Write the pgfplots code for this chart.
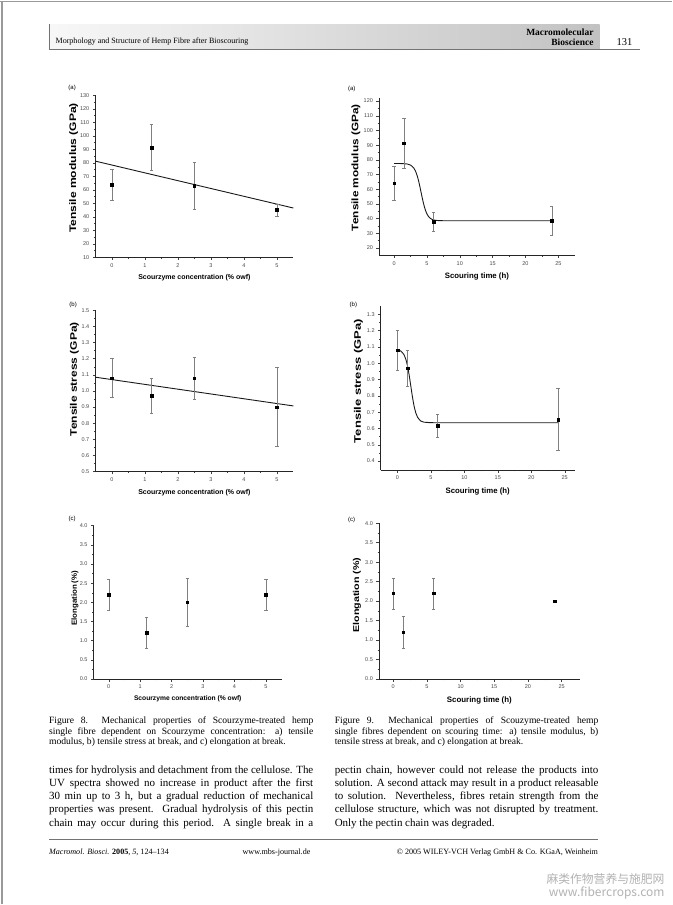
\documentclass[border=0pt]{standalone}
\usepackage{pgfplots}
\pgfplotsset{compat=1.18}
\usepackage{graphicx}
\usepackage{fontspec}
\setmainfont{Liberation Serif}
\setsansfont{Liberation Sans}
\newfontfamily\cjk{Noto Sans CJK SC}

% justified line of a given width (squeezed if too long)
\newlength\jw
\newcommand\jline[2]{\settowidth\jw{#2}\ifdim\jw>#1\relax\resizebox{#1}{\height}{#2}\else\makebox[#1][s]{#2}\fi}

\pgfplotsset{
  panel/.style={
    scale only axis, anchor=south west, clip=false,
    axis x line*=bottom, axis y line*=left,
    tick align=outside,
    axis line style={black!85, line width=0.45pt},
    major tick length=2.6pt, minor tick length=1.5pt,
    every tick/.append style={black!75, line width=0.4pt},
    minor x tick num=1, minor y tick num=1,
    tick label style={font=\sffamily\fontsize{5.5}{6}\selectfont, text=black!72},
    /pgf/number format/assume math mode=true,
  },
  xlab/.style 2 args={xlabel style={at={([yshift=-#1]axis description cs:0.5,0)}, anchor=center,
      font=\sffamily\bfseries\fontsize{#2}{#2}\selectfont}},
  ylab/.style n args={3}{ylabel style={at={([xshift=-#1,yshift=#2]axis description cs:0,0.5)}, anchor=center,
      font=\sffamily\bfseries\fontsize{#3}{#3}\selectfont}},
  onedec/.style={yticklabel style={/pgf/number format/.cd, fixed, fixed zerofill, precision=1}},
  pts/.style={only marks, mark=square*, mark size=1.3pt, black,
    error bars/.cd, y dir=both, y explicit,
    error bar style={black!50, line width=0.45pt},
    error mark options={rotate=90, black!50, mark size=1.7pt, line width=0.45pt}},
  fit/.style={no marks, black!90, line width=0.9pt},
}

\begin{document}
\begin{tikzpicture}[x=1pt,y=1pt]
\path[fill=white] (0,0) rectangle (672,905);

% page edge
\draw[black!40, line width=1.2pt] (1.5,0) -- (1.5,905);
\draw[black!40, line width=1pt] (0,904.5) -- (672,904.5);

% running head
\shade[left color=black!3, right color=black!24] (48.5,{905-49}) rectangle (600,{905-23.5});
\draw[black!55, line width=0.8pt] (48.5,{905-49}) -- (640,{905-49});
\draw[black!55, line width=0.8pt] (48.5,{905-23.5}) -- (48.5,{905-49});
\node[anchor=base west, inner sep=0, font=\fontsize{8.05}{9}\selectfont] at (55,{905-43})
  {Morphology and Structure of Hemp Fibre after Bioscouring};
\node[anchor=base east, inner sep=0, font=\bfseries\fontsize{9.5}{10}\selectfont] at (594,{905-35}) {Macromolecular};
\node[anchor=base east, inner sep=0, font=\bfseries\fontsize{9.5}{10}\selectfont] at (594,{905-45}) {Bioscience};
\node[anchor=base east, inner sep=0, font=\fontsize{10.5}{11}\selectfont] at (633,{905-45}) {131};

% panel letters
\begin{scope}[every node/.style={font=\sffamily\fontsize{6}{7}\selectfont, inner sep=0}]
\node at (71.7,{905-87.7}) {(a)};
\node at (351.7,{905-88.3}) {(a)};
\node at (72.7,{905-305}) {(b)};
\node at (353.3,{905-305}) {(b)};
\node at (71.7,{905-519}) {(c)};
\node at (351.7,{905-520}) {(c)};
\end{scope}

% ---------- Figure 8 a
\begin{axis}[panel, at={(95pt,648pt)}, width=198.3pt, height=162pt,
  xmin=-0.5, xmax=5.5, ymin=10, ymax=130,
  xtick={0,...,5}, ytick={10,20,...,130},
  xlab={20.7pt}{7}, ylab={21.7pt}{8.5pt}{9.5},
  xlabel={Scourzyme concentration (\% owf)},
  ylabel={\scalebox{1.27}[1]{Tensile modulus (GPa)}}]
\addplot[fit] coordinates {(-0.5,81.3) (5.5,46.5)};
\addplot[pts] coordinates {
 (0,64) +- (0,11.6)
 (1.2,91.3) +- (0,17)
 (2.5,63) +- (0,17.4)
 (5,45.3) += (0,3.8) -= (0,4.9)
};
\end{axis}

% ---------- Figure 9 a
\begin{axis}[panel, at={(379pt,650pt)}, width=196pt, height=157.3pt,
  xmin=-2.3, xmax=27.5, ymin=15, ymax=122,
  xtick={0,5,...,25}, ytick={20,30,...,120},
  xlab={21.7pt}{7.8}, ylab={23pt}{9pt}{9.5},
  xlabel={Scouring time (h)},
  ylabel={\scalebox{1.24}[1]{Tensile modulus (GPa)}}]
\addplot[fit, smooth] coordinates {
 (0,77.5) (1,77.46) (2,77.14) (2.5,76.42) (3,74.38) (3.25,72.38) (3.5,69.35)
 (3.75,65.23) (4,60.15) (4.25,54.78) (4.5,49.86) (4.75,45.94) (5,43.15)
 (5.25,41.3) (5.5,40.17) (6,39.07) (7,38.56) (10,38.5) (24,38.5)
};
\addplot[pts] coordinates {
 (0,64) +- (0,11.6)
 (1.5,91.3) +- (0,17)
 (6,37.7) +- (0,6.4)
 (24,38.7) +- (0,10)
};
\end{axis}

% ---------- Figure 8 b
\begin{axis}[panel, onedec, at={(95pt,433.3pt)}, width=198.3pt, height=161.7pt,
  xmin=-0.5, xmax=5.5, ymin=0.5, ymax=1.5,
  xtick={0,...,5}, ytick={0.5,0.6,...,1.51},
  xlab={21pt}{7}, ylab={21pt}{11.6pt}{9.5},
  xlabel={Scourzyme concentration (\% owf)},
  ylabel={\scalebox{1.26}[1]{Tensile stress (GPa)}}]
\addplot[fit] coordinates {(-0.5,1.085) (5.5,0.907)};
\addplot[pts] coordinates {
 (0,1.08) +- (0,0.12)
 (1.2,0.97) +- (0,0.11)
 (2.5,1.08) +- (0,0.13)
 (5,0.90) +- (0,0.245)
};
\end{axis}

% ---------- Figure 9 b
\begin{axis}[panel, onedec, at={(380.7pt,435pt)}, width=194.3pt, height=164pt,
  xmin=-2.5, xmax=26.5, ymin=0.345, ymax=1.35,
  xtick={0,5,...,25}, ytick={0.4,0.5,...,1.31},
  xlab={21.7pt}{7.8}, ylab={22.4pt}{7pt}{9.5},
  xlabel={Scouring time (h)},
  ylabel={\scalebox{1.37}[1]{Tensile stress (GPa)}}]
\addplot[fit, smooth] coordinates {
 (0,1.082) (0.5,1.075) (1,1.051) (1.25,1.025) (1.5,0.985) (1.75,0.928)
 (2,0.860) (2.25,0.792) (2.5,0.735) (2.75,0.695) (3,0.669) (3.5,0.645)
 (4,0.638) (5,0.636) (6,0.635) (24,0.635)
};
\addplot[pts] coordinates {
 (0,1.08) +- (0,0.12)
 (1.5,0.97) +- (0,0.11)
 (6,0.615) +- (0,0.07)
 (24,0.655) +- (0,0.19)
};
\end{axis}

% ---------- Figure 8 c
\begin{axis}[panel, onedec, at={(93.3pt,225.7pt)}, width=188.4pt, height=153.6pt,
  xmin=-0.48, xmax=5.51, ymin=0, ymax=4,
  xtick={0,...,5}, ytick={0,0.5,...,4.01},
  xlab={20pt}{6.7}, ylab={18.8pt}{4pt}{7.5},
  xlabel={Scourzyme concentration (\% owf)},
  ylabel={\scalebox{1.05}[1]{Elongation (\%)}}]
\addplot[pts] coordinates {
 (0,2.2) +- (0,0.4)
 (1.2,1.2) +- (0,0.4)
 (2.5,2.0) +- (0,0.62)
 (5,2.2) +- (0,0.4)
};
\end{axis}

% ---------- Figure 9 c
\begin{axis}[panel, onedec, at={(379pt,225.7pt)}, width=201pt, height=156pt,
  xmin=-2.12, xmax=27.7, ymin=0, ymax=4,
  xtick={0,5,...,25}, ytick={0,0.5,...,4.01},
  xlab={21.4pt}{7.9}, ylab={22pt}{6pt}{8.5},
  xlabel={Scouring time (h)},
  ylabel={\scalebox{1.26}[1]{Elongation (\%)}}]
\addplot[pts] coordinates {
 (0,2.2) +- (0,0.4)
 (1.5,1.2) +- (0,0.4)
 (6,2.2) +- (0,0.4)
};
\addplot[only marks, mark=square*, mark size=1.3pt, black] coordinates {(24,2.0)};
\end{axis}

% captions
\begin{scope}[every node/.style={anchor=base west, inner sep=0, font=\fontsize{9.6}{10.5}\selectfont}]
\node at (48.5,{905-724}) {\jline{264.5pt}{Figure 8.\ \ Mechanical properties of Scourzyme-treated hemp}};
\node at (48.5,{905-734.5}) {\jline{264.5pt}{single fibre dependent on Scourzyme concentration: a) tensile}};
\node at (48.5,{905-745}) {modulus, b) tensile stress at break, and c) elongation at break.};
\node at (334.5,{905-724}) {\jline{264pt}{Figure 9.\ \ Mechanical properties of Scouzyme-treated hemp}};
\node at (334.5,{905-734.5}) {\jline{264pt}{single fibres dependent on scouring time: a) tensile modulus, b)}};
\node at (334.5,{905-745}) {tensile stress at break, and c) elongation at break.};
\end{scope}

% body text
\begin{scope}[every node/.style={anchor=base west, inner sep=0, font=\fontsize{11}{13.3}\selectfont}]
\node at (48.5,{905-773.5}) {\jline{264.5pt}{times for hydrolysis and detachment from the cellulose. The}};
\node at (48.5,{905-786.8}) {\jline{264.5pt}{UV spectra showed no increase in product after the first}};
\node at (48.5,{905-800.1}) {\jline{264.5pt}{30 min up to 3 h, but a gradual reduction of mechanical}};
\node at (48.5,{905-813.4}) {\jline{264.5pt}{properties was present. Gradual hydrolysis of this pectin}};
\node at (48.5,{905-826.7}) {\jline{264.5pt}{chain may occur during this period. A single break in a}};
\node at (334.5,{905-773.5}) {\jline{264pt}{pectin chain, however could not release the products into}};
\node at (334.5,{905-786.8}) {\jline{264pt}{solution. A second attack may result in a product releasable}};
\node at (334.5,{905-800.1}) {\jline{264pt}{to solution. Nevertheless, fibres retain strength from the}};
\node at (334.5,{905-813.4}) {\jline{264pt}{cellulose structure, which was not disrupted by treatment.}};
\node at (334.5,{905-826.7}) {Only the pectin chain was degraded.};
\end{scope}

% footer
\draw[black!55, line width=0.6pt] (48.5,{905-840}) -- (598.5,{905-840});
\begin{scope}[every node/.style={inner sep=0, font=\fontsize{8.1}{9}\selectfont}]
\node[anchor=base west] at (48.5,{905-855}) {\textit{Macromol. Biosci.} \textbf{2005}, \textit{5}, 124--134};
\node[anchor=base east] at (310.5,{905-855}) {www.mbs-journal.de};
\node[anchor=base east] at (598.5,{905-855}) {\copyright\ 2005 WILEY-VCH Verlag GmbH \& Co. KGaA, Weinheim};
\end{scope}

% watermark
\node[anchor=base east, inner sep=0, text=black!30, font=\cjk\fontsize{11.8}{12}\selectfont] at (665,{905-884}) {麻类作物营养与施肥网};
\node[anchor=base east, inner sep=0, text=black!30, font=\cjk\fontsize{12}{13}\selectfont, overlay] at (665,{905-897}) {www.fibercrops.com};
\end{tikzpicture}
\end{document}
